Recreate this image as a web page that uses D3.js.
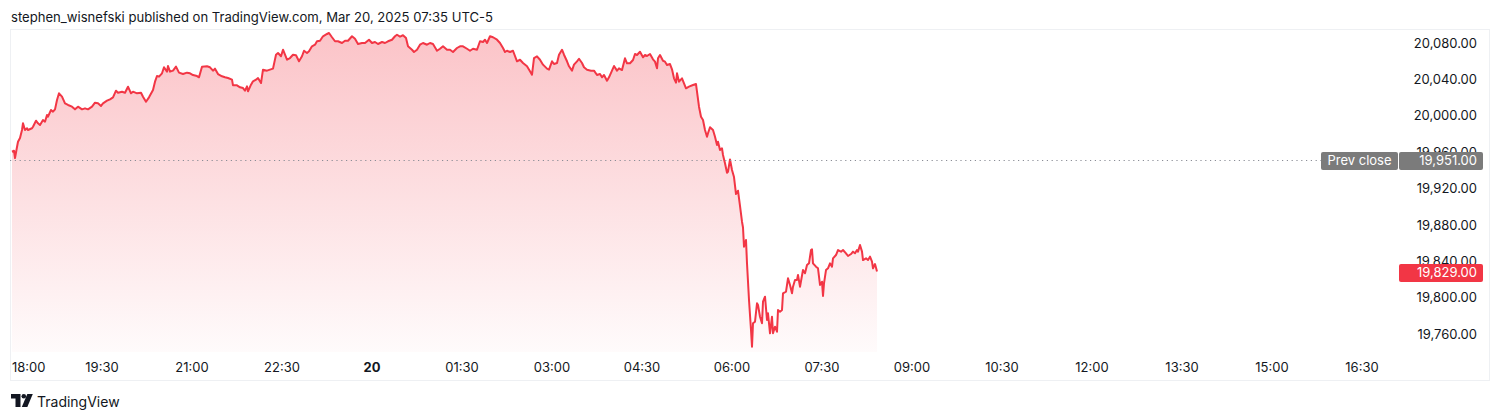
<!DOCTYPE html>
<html><head><meta charset="utf-8">
<script src="https://cdn.jsdelivr.net/npm/d3@7"></script>
<style>
body{margin:0;background:#fff;}
svg text{font-family:Inter,"Noto Sans",Roboto,sans-serif;}
</style>
</head><body>
<svg id="chart" width="1500" height="420"></svg>
<script>
// ---- data (minutes after 18:00 on Mar 19, price) ----
const minutesFrom1800 = [
0,2,3,5,6,8,10,11,13,15,16,20,21,24,26,28,31,33,35,36,
39,41,43,45,47,50,53,56,60,63,66,70,73,76,80,83,86,89,91,95,
98,101,104,106,110,113,116,119,121,125,129,131,134,137,141,143,145,147,150,152,
155,156,158,161,164,167,171,175,178,181,185,187,190,195,198,201,203,206,210,213,
216,220,221,225,228,231,233,235,236,239,241,244,246,249,251,255,258,261,264,266,
269,271,273,275,278,281,284,287,290,292,295,297,300,303,305,308,311,315,317,320,
323,326,330,333,336,340,343,346,350,353,357,360,363,366,370,373,376,380,383,385,
388,391,394,396,400,402,405,408,411,415,418,421,425,428,431,435,438,441,445,448,
451,455,458,461,465,468,471,473,475,478,481,485,488,491,493,495,498,501,505,508,
511,515,518,520,522,525,528,531,535,537,540,542,545,547,550,552,555,557,560,562,
565,567,570,572,575,579,582,585,588,590,592,595,597,600,602,605,607,610,613,615,
618,621,623,625,628,631,633,635,638,641,643,645,646,648,651,653,655,658,660,662,
664,665,667,670,672,674,677,681,684,685,687,689,691,693,695,696,698,701,703,705,
706,708,710,711,713,715,716,718,720,722,724,726,728,730,731,732,734,735,737,739,
740,741,743,745,746,748,750,751,753,755,756,758,760,761,763,765,766,768,770,771,
774,776,778,780,781,783,785,786,788,791,793,795,797,799,800,801,804,806,808,810,
811,812,814,816,818,820,821,824,826,829,831,834,836,839,841,843,845,846,848,850,
851,854,856,858,860,861,863,865
];
const prices = [
19960.5,19961.6,19953.6,19965.7,19971.5,19975.6,19984.4,19991.8,19984.4,19986.3,19984.4,19986.3,19988,19994.6,19991.8,19989.9,19995.4,19993.5,20000.9,19999,
20006.4,20004.5,20007.1,20017.4,20024.7,20021,20013.7,20011.9,20010,20007.1,20010,20007.1,20008.2,20007.1,20010,20014.4,20013.7,20010.8,20013.7,20016.6,
20018.1,20020.3,20027.6,20025.4,20026.5,20025.4,20032,20024.7,20026.5,20024.7,20025.4,20021,20015.5,20020.3,20028.4,20037.5,20043.7,20043,20046.7,20053.3,
20048.5,20054.7,20048.5,20049.6,20054,20047.4,20045.9,20047.4,20046.7,20044.8,20043.7,20042.3,20054,20054.4,20053.3,20049.6,20051.8,20045.9,20043.4,20042.3,
20041.5,20039.7,20033.5,20033.5,20031.3,20030.5,20027.6,20032.4,20026.9,20034.2,20037.9,20039.7,20041.5,20036,20050.7,20049.6,20050.7,20051.8,20067.1,20069,
20065.4,20072.6,20067.1,20061.6,20063.5,20067.1,20066.5,20059.9,20065.4,20071.5,20069,20070.9,20076.4,20078.1,20081.9,20082.5,20087.4,20089.9,20091,20086.3,
20081.9,20081.9,20080,20082.5,20082.5,20087.4,20084.7,20078.9,20080,20080,20083.6,20080,20081.1,20078.9,20081.1,20080,20081.9,20083.6,20087.4,20089.1,
20087,20088.5,20085.5,20076.4,20072.6,20070.1,20072.6,20078.1,20080,20078.1,20080,20078.9,20071.5,20073.7,20076.4,20072.6,20072.6,20070.1,20074.5,20076.4,
20076.4,20073.7,20071.5,20073.7,20072.6,20081.9,20081.1,20083.6,20080,20087.4,20086.3,20083.6,20080,20074.5,20070.1,20071.5,20070.1,20071.5,20059.9,20061.6,
20058,20054.4,20048.9,20045.2,20063.5,20065.4,20061.6,20056.2,20051.8,20050.7,20059.9,20056.9,20058,20067.1,20072.6,20067.1,20059.9,20054.4,20049.6,20056.2,
20059.9,20062.7,20058,20053.3,20050.7,20049.6,20049.6,20044.8,20045.9,20042.3,20044.8,20038.6,20042.3,20049.6,20054.7,20049.6,20052.2,20050.3,20063.2,20057.7,
20057.7,20061.3,20067.9,20066.8,20070.4,20064.3,20066.8,20065.7,20067.9,20062.1,20059.5,20052.2,20063.2,20066.8,20060.5,20059.5,20055.8,20056.9,20051.1,20041.2,
20036.4,20046.7,20037.5,20041.2,20035.7,20030.2,20032,20033.8,20034.9,20026.5,20010,19999,19995.4,19984.4,19977,19980.8,19987.4,19984.4,19977,19967.9,
19971.5,19962.4,19964.3,19956.9,19947.8,19937.5,19938.6,19952,19940.4,19932.7,19914,19917.7,19900.9,19883.6,19877.3,19856.2,19863.5,19837.9,19797.6,19764.6,
19746.3,19772,19773.7,19794,19792.1,19779.2,19772,19795.7,19801.2,19775.6,19783,19761,19779.2,19761,19768.2,19762.7,19786.6,19784.7,19786.6,19804.9,
19806.7,19821.4,19814.1,19804.9,19812.2,19819.6,19819.6,19825.1,19812.2,19830.5,19826.9,19836,19837.9,19852.5,19853.3,19837.9,19834.2,19832.4,19814.1,19817.7,
19802,19815.9,19830.5,19832.4,19837.9,19834.2,19843.4,19847,19852.5,19850.7,19852.5,19848.9,19845.9,19848.1,19850.7,19848.9,19852.5,19850.7,19858,19850.7,
19841.5,19843.4,19841.5,19845.2,19839.7,19832.4,19837.1,19829
];
const timeTickMinutes = [0,90,180,270,360,450,540,630,720,810,900,990,1080,1170,1260,1350];
const timeTickLabels = ["18:00","19:30","21:00","22:30","20","01:30","03:00","04:30","06:00","07:30","09:00","10:30","12:00","13:30","15:00","16:30"];
const boldTimeLabels = ["20"];
const priceTicks = [20080,20040,20000,19960,19920,19880,19840,19800,19760];
const prevClose = [19951];
const lastPrice = [19829];
const headerText = "stephen_wisnefski published on TradingView.com, Mar 20, 2025 07:35 UTC-5";

// ---- drawing ----
const svg = d3.select("#chart");
const frame = {x:10, y:29, w:1480, h:352};
const paneBottom = 352;
const x = d3.scaleLinear().domain([0,1350]).range([12,1362]);
const y = d3.scaleLinear().domain([19760,20080]).range([334.2,43]);
const data = minutesFrom1800.map((m,i)=>({m, v:prices[i]}));

const defs = svg.append("defs");
const grad = defs.append("linearGradient").attr("id","areaGrad")
  .attr("gradientUnits","userSpaceOnUse").attr("x1",0).attr("x2",0).attr("y1",frame.y).attr("y2",paneBottom);
grad.append("stop").attr("offset",0).attr("stop-color","#f23645").attr("stop-opacity",0.30);
grad.append("stop").attr("offset",1).attr("stop-color","#f23645").attr("stop-opacity",0.02);
defs.append("clipPath").attr("id","pane").append("rect")
  .attr("x",frame.x).attr("y",frame.y).attr("width",1400-frame.x).attr("height",paneBottom-frame.y);

// header
svg.append("text").attr("x",11).attr("y",22).attr("font-size",13.1).attr("fill","#131722").text(headerText);

// frame
svg.append("rect").attr("x",frame.x+0.5).attr("y",frame.y+0.5).attr("width",frame.w-1).attr("height",frame.h-1)
  .attr("fill","none").attr("stroke","#eef0f3");

// area + line
const g = svg.append("g").attr("clip-path","url(#pane)");
g.append("path").datum(data)
  .attr("d", d3.area().x(d=>x(d.m)).y0(paneBottom).y1(d=>y(d.v)))
  .attr("fill","url(#areaGrad)");

// prev close dotted line
svg.append("g").selectAll("line").data(prevClose).join("line")
  .attr("x1",frame.x).attr("x2",1321).attr("y1",d=>Math.round(y(d))+0.5).attr("y2",d=>Math.round(y(d))+0.5)
  .attr("stroke","#8a8d96").attr("stroke-width",1).attr("stroke-dasharray","1.2,3.6");

g.append("path").datum(data)
  .attr("d", d3.line().x(d=>x(d.m)).y(d=>y(d.v)))
  .attr("fill","none").attr("stroke","#f23645").attr("stroke-width",2).attr("stroke-linejoin","round");

// price axis labels
svg.append("g").selectAll("text").data(priceTicks).join("text")
  .attr("x",1477).attr("y",d=>y(d)).attr("dy","0.35em").attr("text-anchor","end")
  .attr("font-size",13).attr("fill","#131722").text(d=>d3.format(",.2f")(d));

// prev close labels
const pc = svg.append("g").selectAll("g").data(prevClose).join("g");
pc.append("rect").attr("x",1321).attr("y",d=>y(d)-8.5).attr("width",77).attr("height",18).attr("rx",2).attr("fill","#7b7b7b");
pc.append("text").attr("x",1359.5).attr("y",d=>y(d)+0.5).attr("dy","0.35em").attr("text-anchor","middle")
  .attr("font-size",13).attr("fill","#fff").text("Prev close");
pc.append("rect").attr("x",1399).attr("y",d=>y(d)-8.5).attr("width",84).attr("height",18).attr("rx",2).attr("fill","#7b7b7b");
pc.append("text").attr("x",1477).attr("y",d=>y(d)+0.5).attr("dy","0.35em").attr("text-anchor","end")
  .attr("font-size",13).attr("fill","#fff").text(d=>d3.format(",.2f")(d));

// last price label
const lp = svg.append("g").selectAll("g").data(lastPrice).join("g");
lp.append("rect").attr("x",1399).attr("y",d=>y(d)-7.5).attr("width",84).attr("height",18).attr("rx",2).attr("fill","#f23645");
lp.append("text").attr("x",1477).attr("y",d=>y(d)+1.5).attr("dy","0.35em").attr("text-anchor","end")
  .attr("font-size",13).attr("fill","#fff").text(d=>d3.format(",.2f")(d));

// time axis labels
const tl = svg.append("g").selectAll("text").data(timeTickMinutes).join("text")
  .attr("y",367).attr("dy","0.35em").attr("text-anchor","middle")
  .attr("font-size",13).attr("fill","#131722")
  .attr("font-weight",(d,i)=>boldTimeLabels.includes(timeTickLabels[i])?700:400)
  .text((d,i)=>timeTickLabels[i]);
tl.attr("x",function(d){ const w=this.getComputedTextLength(); return Math.max(x(d), 12+w/2); });

// TradingView logo
const logo = svg.append("g").attr("fill","#131722");
logo.append("path").attr("d","M11,394 H20.5 V407 H15.5 V398.5 H11 Z");
logo.append("circle").attr("cx",23.8).attr("cy",396.3).attr("r",2.3);
logo.append("path").attr("d","M27.3,394 H32.8 L27.3,407 H21.8 Z");
svg.append("text").attr("x",37).attr("y",407).attr("font-size",14).attr("font-weight",400).attr("fill","#131722").text("TradingView");
</script>
</body></html>
